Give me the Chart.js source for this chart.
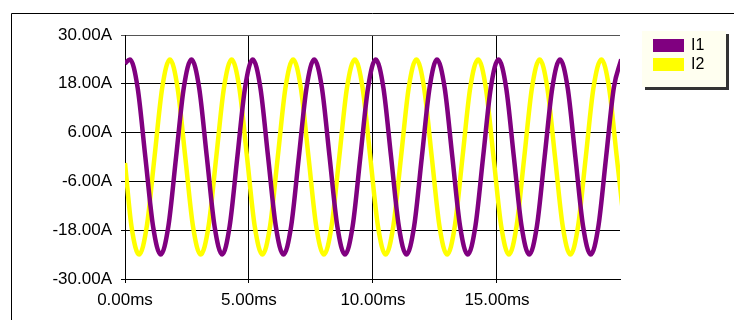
<!DOCTYPE html>
<html>
<head>
<meta charset="utf-8">
<script src="https://cdn.jsdelivr.net/npm/chart.js@4"></script>
<style>
  body { margin:0; background:#fff; }
  #wrap { position:relative; width:734px; height:320px; }
</style>
</head>
<body>
<div id="wrap"><canvas id="waveChart" width="734" height="320"></canvas></div>
<script>
// I1 sample times (ms) and currents (A)
let t1 = [0.00,0.20,0.51,0.82,1.13,1.44,1.75,2.06,2.37,2.68,2.99,3.30,3.61,3.92,4.22,4.53,4.84,
  5.15,5.46,5.77,6.08,6.39,6.70,7.01,7.32,7.63,7.94,8.25,8.56,8.87,9.18,9.49,9.80,
  10.11,10.42,10.73,11.04,11.35,11.66,11.97,12.28,12.58,12.89,13.20,13.51,13.82,14.13,14.44,14.75,
  15.06,15.37,15.68,15.99,16.30,16.61,16.92,17.23,17.54,17.85,18.16,18.47,18.78,19.09,19.40,19.71,20.01]
let i1 = [23.0,24.0,17.0,0,-17.0,-24.0,-17.0,0,17.0,24.0,17.0,0,-17.0,-24.0,-17.0,0,17.0,
  24.0,17.0,0,-17.0,-24.0,-17.0,0,17.0,24.0,17.0,0,-17.0,-24.0,-17.0,0,17.0,
  24.0,17.0,0,-17.0,-24.0,-17.0,0,17.0,24.0,17.0,0,-17.0,-24.0,-17.0,0,17.0,
  24.0,17.0,0,-17.0,-24.0,-17.0,0,17.0,24.0,17.0,0,-17.0,-24.0,-17.0,0,17.0,24.0]

// I2 sample times (ms) and currents (A)
let t2 = [0.00,0.26,0.57,0.88,1.19,1.50,1.81,2.12,2.43,2.74,3.05,3.37,3.68,3.99,4.30,4.61,4.92,
  5.23,5.54,5.85,6.16,6.47,6.78,7.09,7.40,7.71,8.02,8.33,8.64,8.95,9.27,9.58,9.89,
  10.20,10.51,10.82,11.13,11.44,11.75,12.06,12.37,12.68,12.99,13.30,13.61,13.92,14.24,14.55,14.86,
  15.17,15.48,15.79,16.10,16.41,16.72,17.03,17.34,17.65,17.96,18.27,18.58,18.89,19.21,19.52,19.83,20.14]
let i2 = [-1.5,-17.0,-24.0,-17.0,0,17.0,24.0,17.0,0,-17.0,-24.0,-17.0,0,17.0,24.0,17.0,0,
  -17.0,-24.0,-17.0,0,17.0,24.0,17.0,0,-17.0,-24.0,-17.0,0,17.0,24.0,17.0,0,
  -17.0,-24.0,-17.0,0,17.0,24.0,17.0,0,-17.0,-24.0,-17.0,0,17.0,24.0,17.0,0,
  -17.0,-24.0,-17.0,0,17.0,24.0,17.0,0,-17.0,-24.0,-17.0,0,17.0,24.0,17.0,0,-17.0]

let xTicks = [0,5,10,15]
let yTicks = [30,18,6,-6,-18,-30]

const pts = (t, v) => t.map((x, k) => ({x: x, y: v[k]}))

// outer frame + legend box drawn on the canvas
const decor = {
  id: 'decor',
  beforeDraw(c) {
    const ctx = c.ctx
    ctx.save()
    ctx.strokeStyle = '#000'
    ctx.lineWidth = 1
    ctx.beginPath()
    ctx.moveTo(11.5, 320); ctx.lineTo(11.5, 13.5); ctx.lineTo(734, 13.5)
    ctx.stroke()
    ctx.restore()
  },
  afterDraw(c) {
    const ctx = c.ctx
    ctx.save()
    ctx.fillStyle = '#333'
    ctx.fillRect(645, 34, 84, 56)
    ctx.fillStyle = '#fffff0'
    ctx.fillRect(642, 31, 84, 56)
    c.data.datasets.forEach((ds, k) => {
      ctx.fillStyle = ds.borderColor
      ctx.fillRect(653, 39 + k * 19, 31, 13)
      ctx.fillStyle = '#000'
      ctx.font = '16px "Liberation Sans", Arial'
      ctx.textBaseline = 'middle'
      ctx.fillText(ds.label, 691, 46 + k * 19)
    })
    ctx.restore()
  }
}

let chart = new Chart(document.getElementById('waveChart').getContext('2d'), {
  type: 'line',
  data: {
    datasets: [{
      label: 'I1',
      data: pts(t1, i1),
      borderColor: '#800080',
      borderWidth: 4.5,
      pointRadius: 0,
      cubicInterpolationMode: 'monotone'
    }, {
      label: 'I2',
      data: pts(t2, i2),
      borderColor: '#ffff00',
      borderWidth: 4.5,
      pointRadius: 0,
      cubicInterpolationMode: 'monotone'
    }]
  },
  options: {
    responsive: false,
    animation: false,
    layout: { padding: { top: 35, right: 114, left: 0, bottom: 0 } },
    plugins: { legend: { display: false }, tooltip: { enabled: false } },
    scales: {
      x: {
        type: 'linear',
        min: 0,
        max: 19.96,
        afterBuildTicks: s => { s.ticks = xTicks.map(v => ({value: v})) },
        afterFit: s => { s.height = 41 },
        ticks: {
          color: '#000',
          font: { family: '"Liberation Sans", Arial', size: 17 },
          padding: 7,
          maxRotation: 0,
          callback: v => v.toFixed(2) + 'ms'
        },
        grid: { color: '#000', lineWidth: 1, tickLength: 4 },
        border: { color: '#000', width: 1 }
      },
      y: {
        min: -30,
        max: 30,
        afterBuildTicks: s => { s.ticks = yTicks.map(v => ({value: v})) },
        afterFit: s => { s.width = 125 },
        ticks: {
          color: '#000',
          font: { family: '"Liberation Sans", Arial', size: 17 },
          padding: 9,
          callback: v => v.toFixed(2) + 'A'
        },
        grid: {
          color: c => c.tick && c.tick.value === 30 ? '#555' : '#000',
          lineWidth: 1,
          tickLength: 4
        },
        border: { color: '#000', width: 1 }
      }
    }
  },
  plugins: [decor]
})
</script>
</body>
</html>
